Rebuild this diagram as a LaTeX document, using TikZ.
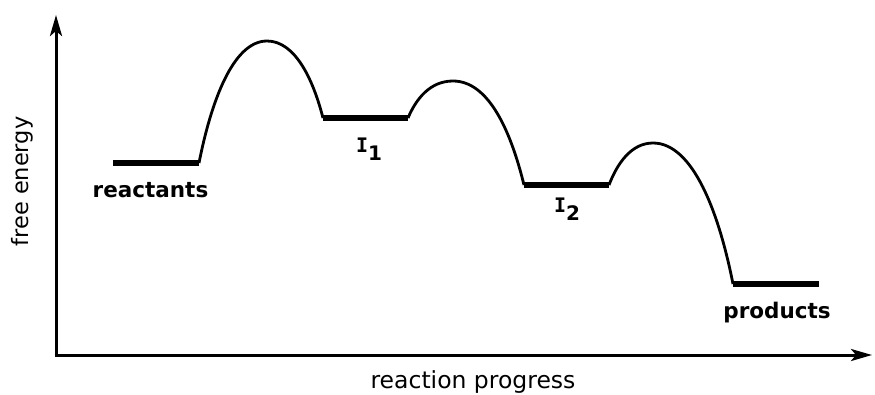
\documentclass[tikz,border=0pt]{standalone}
\usepackage{fontspec}
\setmainfont{DejaVu Sans}
\newfontfamily\monofnt{DejaVu Sans Mono}
\usetikzlibrary{arrows.meta}
\begin{document}
\begin{tikzpicture}[x=1pt,y=-1pt,
  axis/.style={line width=3pt,-{Stealth[length=21pt,width=12pt,inset=5pt]}},
  level/.style={line width=6pt},
  hump/.style={line width=2.8pt},
  boldlabel/.style={font=\fontsize{21.5}{24}\selectfont\bfseries,inner sep=0pt,anchor=base},
  axislabel/.style={font=\fontsize{23.5}{26}\selectfont,inner sep=0pt,anchor=base},
  ilabel/.style={font=\fontsize{20}{22}\selectfont\bfseries,inner sep=0pt,anchor=base west}]
\useasboundingbox (0,0) rectangle (875,394);
% axes
\coordinate (O) at (56,355);
\coordinate (ytip) at (56,15);
\coordinate (xtip) at (872,355);
\draw[axis] (56,356.5) -- (ytip);
\draw[axis] (54.5,355) -- (xtip);
% levels
\coordinate (rW) at (113,163); \coordinate (rE) at (199,163);
\coordinate (aW) at (323,118); \coordinate (aE) at (408,118);
\coordinate (bW) at (524,185); \coordinate (bE) at (609,185);
\coordinate (pW) at (733,284); \coordinate (pE) at (819,284);
\coordinate (t1) at (267,41);
\coordinate (t2) at (453,81);
\coordinate (t3) at (653,143);
\draw[level] (rW) -- (rE);
\draw[level] (aW) -- (aE);
\draw[level] (bW) -- (bE);
\draw[level] (pW) -- (pE);
% humps
\draw[hump] (rE) .. controls (211,102) and (233,41) .. (t1)
               .. controls (295,41) and (313,79) .. (aW);
\draw[hump] (aE) .. controls (416,99) and (430,81) .. (t2)
               .. controls (489,81) and (511,132) .. (bW);
\draw[hump] (bE) .. controls (617,164) and (631,143) .. (t3)
               .. controls (693,143) and (719,213) .. (pW);
% labels
\node[boldlabel] (lr) at (150.5,197) {reactants};
\node[boldlabel] (lp) at (777,318) {products};
\node[axislabel] (lx) at (473,388) {reaction progress};
\node[axislabel,font=\fontsize{22.5}{26}\selectfont,rotate=90] (ly) at (28,181.5) {free energy};
\node[ilabel] (li1) at (356,152) {{\monofnt I}\raisebox{-8pt}{1}};
\node[ilabel] (li2) at (554,212) {{\monofnt I}\raisebox{-8pt}{2}};
\end{tikzpicture}
\end{document}
